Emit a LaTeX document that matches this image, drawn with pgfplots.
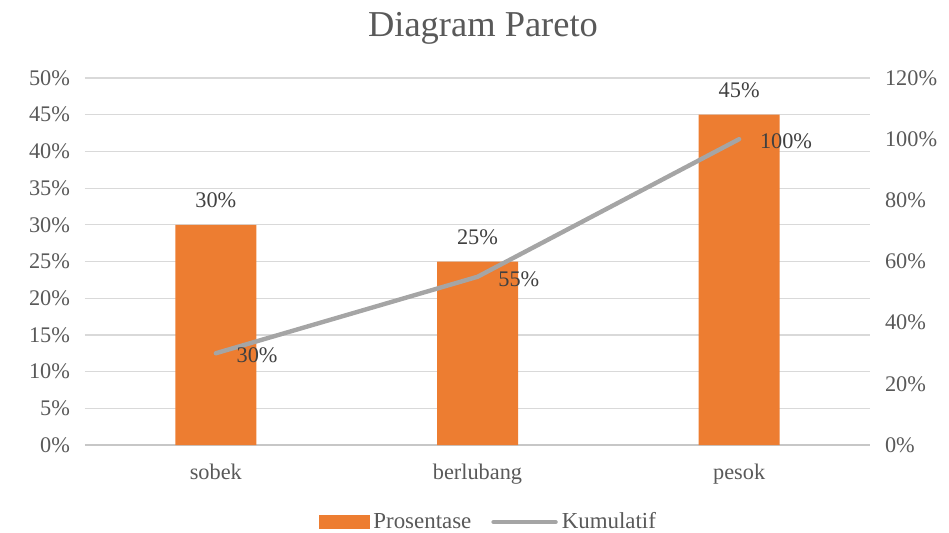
\documentclass[border=0pt]{standalone}
\usepackage{fontspec}
\setmainfont{Liberation Serif}
\usepackage{pgfplots}
\pgfplotsset{compat=1.18}
\definecolor{barorange}{HTML}{ED7D31}
\definecolor{linegray}{HTML}{A5A5A5}
\definecolor{gridgray}{HTML}{D9D9D9}
\definecolor{txtgray}{HTML}{595959}
\definecolor{lblgray}{HTML}{404040}
\begin{document}
\begin{tikzpicture}
\useasboundingbox (0,0) rectangle (474.5bp,266.5bp);
\node[text=txtgray, font=\fontsize{18.3}{20}\selectfont] at (241.5bp,252.5bp) {Diagram Pareto};
\begin{axis}[
  at={(42.5bp,44bp)}, anchor=south west,
  scale only axis, width=392.5bp, height=183.5bp,
  xmin=-0.5, xmax=2.5, ymin=0, ymax=50,
  xtick={0,1,2}, xticklabels={sobek,berlubang,pesok},
  ytick={0,5,...,50},
  yticklabel={\pgfmathprintnumber{\tick}\%},
  /pgf/number format/assume math mode=true,
  tick label style={font=\fontsize{11.2}{13}\selectfont, text=txtgray},
  major tick length=0pt,
  ymajorgrids, grid style={gridgray, line width=0.6pt},
  axis x line*=bottom, axis y line*=left,
  y axis line style={draw=none},
  x axis line style={gridgray!80!gray, line width=0.6pt},
  xticklabel style={yshift=-6bp},
  yticklabel style={xshift=-4bp},
  clip=false,
]
\addplot[ybar, bar width=40.5bp, fill=barorange, draw=none,
  nodes near coords={\pgfmathprintnumber{\pgfplotspointmeta}\%},
  nodes near coords style={font=\fontsize{11.2}{13}\selectfont, text=lblgray, yshift=5bp},
] coordinates {(0,30) (1,25) (2,45)};
\end{axis}
\begin{axis}[
  at={(42.5bp,44bp)}, anchor=south west,
  scale only axis, width=392.5bp, height=183.5bp,
  xmin=-0.5, xmax=2.5, ymin=0, ymax=120,
  xtick=\empty,
  ytick={0,20,...,120},
  yticklabel={\pgfmathprintnumber{\tick}\%},
  /pgf/number format/assume math mode=true,
  tick label style={font=\fontsize{11.2}{13}\selectfont, text=txtgray},
  major tick length=0pt,
  axis x line=none, axis y line*=right,
  y axis line style={draw=none},
  yticklabel style={xshift=4bp},
  clip=false,
  legend style={at={(0.515,-0.21)}, anchor=center, draw=none, fill=none,
    legend columns=2, font=\fontsize{11.5}{13}\selectfont, text=txtgray,
    /tikz/every even column/.append style={column sep=8bp}},
  legend image code/.code={},
]
\addlegendimage{legend image code/.code={\fill[barorange] (0cm,-3.2bp) rectangle (25bp,3.2bp);}}
\addlegendentry{Prosentase}
\addlegendimage{legend image code/.code={\draw[linegray, line width=2.2bp, line cap=round] (0cm,0cm) -- (31bp,0cm);}}
\addlegendentry{Kumulatif}
\addplot[linegray, line width=2.2bp, line cap=round, mark=none,
  nodes near coords={\pgfmathprintnumber{\pgfplotspointmeta}\%},
  nodes near coords style={font=\fontsize{11.2}{13}\selectfont, text=lblgray, anchor=west, xshift=6bp, yshift=-1bp},
] coordinates {(0,30) (1,55) (2,100)};
\end{axis}
\end{tikzpicture}
\end{document}
